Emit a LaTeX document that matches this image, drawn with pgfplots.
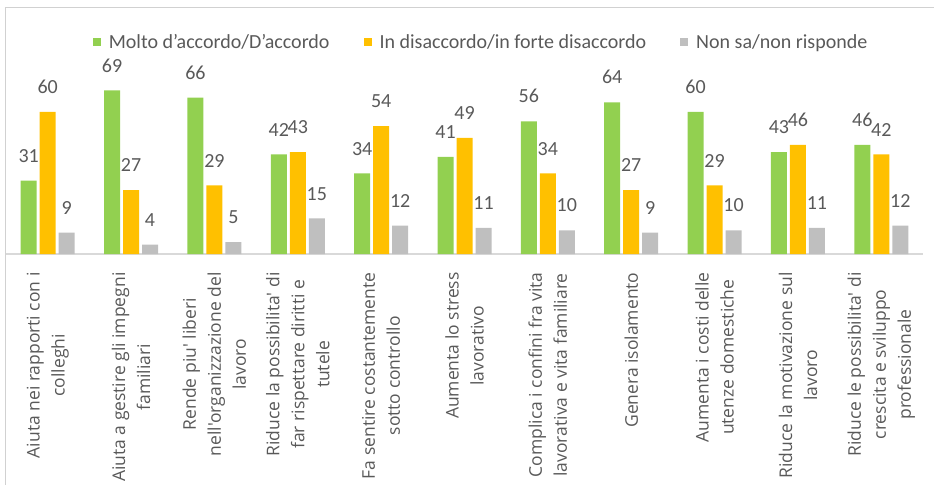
\documentclass[border=0pt]{standalone}
\usepackage{pgfplots}
\pgfplotsset{compat=1.18}
\usepackage{fontspec}
\setmainfont{Carlito}
\newfontfamily\osans{Open Sans}
\definecolor{cgreen}{HTML}{92D050}
\definecolor{corange}{HTML}{FFC000}
\definecolor{cgray}{HTML}{BFBFBF}
\definecolor{ctext}{HTML}{595959}
\definecolor{caxis}{HTML}{D9D9D9}
\begin{document}
\begin{tikzpicture}
\useasboundingbox (-6bp,-231bp) rectangle (928bp,254bp);
\draw[color=black!18, line width=1bp] (-0.5bp,-231bp) -- (-0.5bp,246.5bp) -- (928bp,246.5bp);
\begin{axis}[
  at={(0,0)}, anchor=south west,
  scale only axis, width=917bp, height=189.6bp,
  xmin=-0.5, xmax=10.5, ymin=0, ymax=80,
  enlargelimits=false, clip=false,
  ybar=3bp, bar width=16bp,
  axis x line*=bottom, hide y axis,
  x axis line style={color=caxis, line width=1.3bp, -},
  xtick={0,...,10}, xtick style={draw=none},
  xticklabels={
    {Aiuta nei rapporti con i\\colleghi},
    {Aiuta a gestire gli impegni\\familiari},
    {Rende piu' liberi\\nell'organizzazione del\\lavoro},
    {Riduce la possibilita' di\\far rispettare diritti e\\tutele},
    {Fa sentire costantemente\\sotto controllo},
    {Aumenta lo stress\\lavorativo},
    {Complica i confini fra vita\\lavorativa e vita familiare},
    {Genera isolamento},
    {Aumenta i costi delle\\utenze domestiche},
    {Riduce la motivazione sul\\lavoro},
    {Riduce le possibilita' di\\crescita e sviluppo\\professionale}},
  xticklabel shift=14bp,
  xticklabel style={rotate=90, anchor=east, align=center, inner sep=0pt,
    text=ctext},
  ticklabel style={font=\osans\fontsize{17.5bp}{25bp}\selectfont},
  /pgf/number format/assume math mode=true,
  nodes near coords,
  every node near coord/.append style={anchor=south, inner sep=0pt, yshift=18bp,
    text=ctext, font=\fontsize{20bp}{24bp}\selectfont},
  legend columns=3,
  legend style={at={(0.517,1.118)}, anchor=center, draw=none, fill=none,
    font=\fontsize{20bp}{24bp}\selectfont, text=ctext,
    /tikz/every even column/.append style={column sep=34bp},
    inner sep=0pt, nodes={inner sep=0pt}},
  legend image code/.code={\fill[#1] (0bp,-4bp) rectangle (8bp,4bp); \path (16bp,0bp);},
]
\addplot[fill=cgreen, draw=none] coordinates {(0,31) (1,69) (2,66) (3,42) (4,34) (5,41) (6,56) (7,64) (8,60) (9,43) (10,46)};
\addplot[fill=corange, draw=none] coordinates {(0,60) (1,27) (2,29) (3,43) (4,54) (5,49) (6,34) (7,27) (8,29) (9,46) (10,42)};
\addplot[fill=cgray, draw=none] coordinates {(0,9) (1,4) (2,5) (3,15) (4,12) (5,11) (6,10) (7,9) (8,10) (9,11) (10,12)};
\legend{Molto d'accordo/D'accordo, In disaccordo/in forte disaccordo, Non sa/non risponde}
\end{axis}
\end{tikzpicture}
\end{document}
